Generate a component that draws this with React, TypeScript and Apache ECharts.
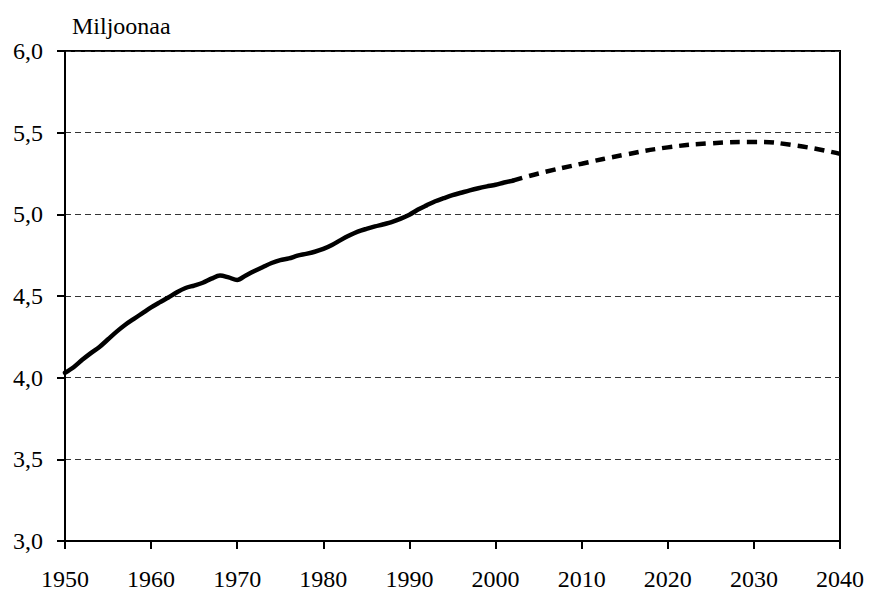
import React, { useEffect, useRef } from "react";
import * as echarts from "echarts";

const actualYears = [1950,1951,1952,1953,1954,1955,1956,1957,1958,1959,1960,1961,1962,1963,1964,1965,1966,1967,1968,1969,1970,1971,1972,1973,1974,1975,1976,1977,1978,1979,1980,1981,1982,1983,1984,1985,1986,1987,1988,1989,1990,1991,1992,1993,1994,1995,1996,1997,1998,1999,2000,2001,2002];
const actualValues = [4.030,4.064,4.109,4.150,4.188,4.235,4.282,4.324,4.360,4.395,4.430,4.461,4.491,4.523,4.549,4.564,4.581,4.606,4.626,4.614,4.598,4.626,4.653,4.678,4.702,4.720,4.730,4.747,4.758,4.771,4.788,4.812,4.842,4.870,4.894,4.911,4.926,4.939,4.954,4.974,4.998,5.029,5.055,5.080,5.099,5.117,5.132,5.147,5.160,5.171,5.181,5.195,5.206];
const projYears = [2002,2005,2010,2015,2020,2025,2030,2035,2040];
const projValues = [5.206,5.25,5.31,5.365,5.41,5.435,5.443,5.42,5.37];
const yTitle = "Miljoonaa";

const FONT = "'Liberation Serif', 'Times New Roman', serif";

export default function App() {
  const ref = useRef<HTMLDivElement>(null);
  useEffect(() => {
    document.body.style.margin = "0";
    const chart = echarts.init(ref.current!, null, { renderer: "svg" });
    chart.setOption({
      animation: false,
      backgroundColor: "#ffffff",
      grid: {
        left: 65, right: 29, top: 51, bottom: 51,
        show: true, borderColor: "#000", borderWidth: 2, backgroundColor: "transparent",
      },
      graphic: [
        { type: "text", left: 72, top: 14, style: { text: yTitle, font: `24px ${FONT}`, fill: "#000" } },
      ],
      xAxis: {
        type: "value", min: 1950, max: 2040, interval: 10,
        axisLine: { show: true, lineStyle: { color: "#000", width: 2 } },
        axisTick: { show: true, length: 8, lineStyle: { color: "#000", width: 2 } },
        axisLabel: { margin: 26, color: "#000", fontFamily: FONT, fontSize: 24, formatter: (v: number) => String(v) },
        splitLine: { show: false },
      },
      yAxis: {
        type: "value", min: 3, max: 6, interval: 0.5,
        axisLine: { show: true, lineStyle: { color: "#000", width: 2 } },
        axisTick: { show: true, length: 8, lineStyle: { color: "#000", width: 2 } },
        axisLabel: { margin: 22, color: "#000", fontFamily: FONT, fontSize: 24, formatter: (v: number) => v.toFixed(1).replace(".", ",") },
        splitLine: { show: true, lineStyle: { color: "#333", width: 1, type: [6, 4] } },
      },
      series: [
        {
          type: "line",
          data: actualYears.map((y, i) => [y, actualValues[i]]),
          showSymbol: false,
          smooth: 0.3,
          lineStyle: { color: "#000", width: 4.5, cap: "round", join: "round" },
        },
        {
          type: "line",
          data: projYears.map((y, i) => [y, projValues[i]]),
          showSymbol: false,
          smooth: true,
          lineStyle: { color: "#000", width: 4.5, type: [10, 7], cap: "butt" },
        },
      ],
    });
    return () => chart.dispose();
  }, []);
  return <div ref={ref} style={{ width: 869, height: 592 }} />;
}
